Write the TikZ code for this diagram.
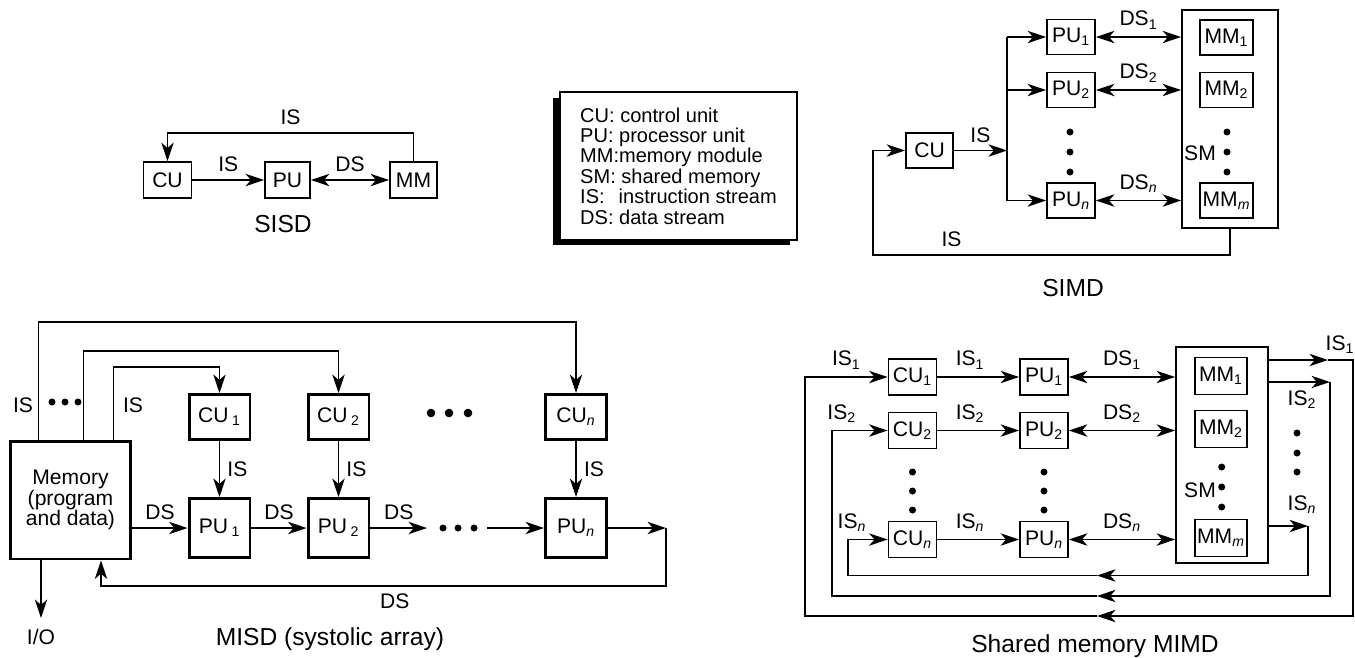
\documentclass[tikz,border=0pt]{standalone}
\usepackage{fontspec}
\setmainfont{Liberation Sans}
\usetikzlibrary{arrows.meta, positioning, calc, shadows}

\newcommand{\idx}[1]{\textsubscript{#1}}
\newcommand{\vidx}[1]{\textsubscript{\itshape #1}}

\tikzset{
  unit/.style={draw, line width=1pt, inner sep=1pt, minimum width=0.96cm, minimum height=0.72cm},
  bigunit/.style={draw, line width=1.7pt, inner sep=1pt, minimum width=1.22cm, minimum height=0.9cm},
  smbox/.style={draw, line width=1pt},
  conn/.style={line width=1.1pt},
  arr/.style={conn, -{Stealth[length=10.5pt,width=7pt,inset=3pt]}},
  darr/.style={conn, {Stealth[length=10.5pt,width=7pt,inset=3pt]}-{Stealth[length=10.5pt,width=7pt,inset=3pt]}},
  lbl/.style={inner sep=1pt},
  caption/.style={font=\fontsize{14}{16}\selectfont},
}

\begin{document}
\begin{tikzpicture}[x=0.02cm, y=-0.02cm, font=\fontsize{12}{13}\selectfont]
    \useasboundingbox (0,0) rectangle (1355,657);

    % SISD
    \node[unit] (cu) at (167.5,180) {CU};
    \node[unit, minimum width=0.9cm] (pu) at (287.5,180) {PU};
    \node[unit, minimum width=0.94cm] (mm) at (413.5,180) {MM};
    \coordinate (sisdtop) at (167.5,133);
    \draw[arr] (cu) -- node[lbl, above=3pt] (sisdis) {IS} (pu);
    \draw[darr] (pu) -- node[lbl, above=3pt] (sisdds) {DS} (mm);
    \draw[arr] (mm.north) |- node[lbl, pos=0.75, above=3pt] (sisdfb) {IS} (sisdtop) -- (cu.north);
    \node[caption] (sisd) at (283,224) {SISD};

    % Legend
    \node[draw, line width=1pt, fill=white, minimum width=4.74cm, minimum height=2.96cm,
          align=left, font=\fontsize{11.4}{11.6}\selectfont,
          drop shadow={shadow xshift=-0.14cm, shadow yshift=-0.11cm, fill=black, opacity=1}]
        (legend) at (678.5,166) {CU: control unit\\PU: processor unit\\MM:memory module\\
        SM: shared memory\\IS:\hspace{0.7em}instruction stream\\DS: data stream};

    % SIMD
    \node[unit, minimum width=0.94cm, minimum height=0.7cm] (scu) at (929.5,150.5) {CU};
    \node[unit, minimum height=0.7cm] (spu1) at (1071,37) {PU\idx{1}};
    \node[unit, minimum height=0.7cm] (spu2) at (1071,90) {PU\idx{2}};
    \node[unit, minimum height=0.7cm] (spun) at (1071,200.5) {PU\vidx{n}};
    \node[smbox, minimum width=1.92cm, minimum height=4.36cm] (ssm) at (1230,119) {};
    \node[unit, minimum width=1.06cm, minimum height=0.7cm] (smm1) at (1226.5,37.5) {MM\idx{1}};
    \node[unit, minimum width=1.06cm, minimum height=0.7cm] (smm2) at (1226.5,90) {MM\idx{2}};
    \node[unit, minimum width=1.06cm, minimum height=0.7cm] (smmm) at (1226.5,200.5) {MM\vidx{m}};
    \node[lbl] (ssml) at (1200,153) {SM};
    \foreach \yy in {132,152,172} {
        \fill (1070,\yy) circle (0.07cm);
        \fill (1227,\yy) circle (0.07cm);
    }
    \coordinate (sbus) at (1007,150.5);
    \draw[arr] (scu) -- node[lbl, above=3pt] (sis) {IS} (sbus);
    \draw[conn] (sbus |- spu1) -- (sbus |- spun);
    \foreach \p in {spu1,spu2,spun}
        \draw[arr] (sbus |- \p) -- (\p);
    \draw[darr] (spu1) -- node[lbl, above=3pt] (sds1) {DS\idx{1}} (spu1 -| ssm.west);
    \draw[darr] (spu2) -- node[lbl, above=3pt] (sds2) {DS\idx{2}} (spu2 -| ssm.west);
    \draw[darr] (spun) -- node[lbl, above=3pt] (sdsn) {DS\vidx{n}} (spun -| ssm.west);
    \coordinate (scorner) at (873,255);
    \draw[arr] (ssm.south) |- node[lbl, pos=0.89, above=3pt] (sisb) {IS} (scorner) |- (scu.west);
    \node[caption] (simd) at (1073,288) {SIMD};

    % MISD (systolic array)
    \node[draw, line width=1.7pt, minimum width=2.42cm, minimum height=2.36cm, align=center,
          font=\fontsize{12}{11.9}\selectfont] (mem) at (70.5,500) {Memory\\(program\\and data)};
    \node[bigunit] (cu1) at (219.5,417) {CU\,\idx{1}};
    \node[bigunit, minimum height=1.18cm] (pu1) at (219.5,528) {PU\,\idx{1}};
    \node[bigunit] (cu2) at (338.5,417) {CU\,\idx{2}};
    \node[bigunit, minimum height=1.18cm] (pu2) at (338.5,528) {PU\,\idx{2}};
    \node[bigunit] (cun) at (576,417) {CU\vidx{n}};
    \node[bigunit, minimum height=1.18cm] (pun) at (576,528) {PU\vidx{n}};

    \coordinate (top3) at (576,322);
    \coordinate (top2) at (338.5,351);
    \coordinate (top1) at (219.5,367);
    \draw[arr] ([xshift=0.6cm]mem.north west) |- (top3) -- (cun.north);
    \draw[arr] ([xshift=1.5cm]mem.north west) |- (top2) -- (cu2.north);
    \draw[arr] ([xshift=2.1cm]mem.north west) |- (top1) -- (cu1.north);
    \node[lbl] (misdl1) at (23,405) {IS};
    \node[lbl] (misdl2) at (133,405) {IS};
    \foreach \xx in {52,65,78} \fill (\xx,402) circle (0.07cm);
    \foreach \xx in {431,449,468} \fill (\xx,413) circle (0.086cm);

    \draw[arr] (cu1) -- node[lbl, right=3pt] (mis1) {IS} (pu1);
    \draw[arr] (cu2) -- node[lbl, right=3pt] (mis2) {IS} (pu2);
    \draw[arr] (cun) -- node[lbl, right=3pt] (misn) {IS} (pun);

    \coordinate (dsa) at (427,528);
    \coordinate (dsb) at (487,528);
    \coordinate (dsr) at (666,528);
    \coordinate (dsbot) at (101,586);
    \draw[arr] (mem.east |- pu1) -- node[lbl, above=3pt] (mds0) {DS} (pu1);
    \draw[arr] (pu1) -- node[lbl, above=3pt] (mds1) {DS} (pu2);
    \draw[arr] (pu2) -- node[lbl, above=3pt] (mds2) {DS} (dsa);
    \foreach \xx in {443,458,474} \fill (\xx,528) circle (0.07cm);
    \draw[arr] (dsb) -- (pun);
    \draw[arr] (pun) -- (dsr);
    \draw[arr] (dsr) |- node[lbl, pos=0.74, below=3pt] (mdsb) {DS} (dsbot) -- (mem.south -| dsbot);
    \coordinate (iotip) at (41,618);
    \node[lbl] (io) at (41,637) {I/O};
    \draw[arr] (mem.south -| iotip) -- (iotip);
    \node[caption] (misd) at (330,639) {MISD (systolic array)};

    % Shared memory MIMD
    \node[unit] (mcu1) at (912.5,377) {CU\idx{1}};
    \node[unit] (mcu2) at (912.5,430.5) {CU\idx{2}};
    \node[unit] (mcun) at (912.5,539.5) {CU\vidx{n}};
    \node[unit] (mpu1) at (1044,377) {PU\idx{1}};
    \node[unit] (mpu2) at (1044,430.5) {PU\idx{2}};
    \node[unit] (mpun) at (1044,539.5) {PU\vidx{n}};
    \node[smbox, minimum width=1.84cm, minimum height=4.32cm] (msm) at (1222,455) {};
    \node[unit, minimum width=1.04cm, minimum height=0.74cm] (mmm1) at (1221,376) {MM\idx{1}};
    \node[unit, minimum width=1.04cm, minimum height=0.74cm] (mmm2) at (1221,429) {MM\idx{2}};
    \node[unit, minimum width=1.04cm, minimum height=0.74cm] (mmmm) at (1221,538) {MM\vidx{m}};
    \node[lbl] (msml) at (1200,490) {SM};
    \foreach \yy in {472,491,510} {
        \fill (912.5,\yy) circle (0.07cm);
        \fill (1044,\yy) circle (0.07cm);
    }
    \foreach \yy in {467,487,507} \fill (1221.7,\yy) circle (0.07cm);
    \foreach \yy in {433,453,472} \fill (1297,\yy) circle (0.07cm);

    \draw[arr] (mcu1) -- node[lbl, pos=0.4, above=3pt] (mis1) {IS\idx{1}} (mpu1);
    \draw[arr] (mcu2) -- node[lbl, pos=0.4, above=3pt] (mis2) {IS\idx{2}} (mpu2);
    \draw[arr] (mcun) -- node[lbl, pos=0.4, above=3pt] (misn) {IS\vidx{n}} (mpun);
    \draw[darr] (mpu1) -- node[lbl, above=3pt] (mds1) {DS\idx{1}} (mpu1 -| msm.west);
    \draw[darr] (mpu2) -- node[lbl, above=3pt] (mds2) {DS\idx{2}} (mpu2 -| msm.west);
    \draw[darr] (mpun) -- node[lbl, above=3pt] (mdsn) {DS\vidx{n}} (mpun -| msm.west);

    \coordinate (mo1) at (1328,360);
    \coordinate (mr1) at (1353,616);
    \coordinate (mb1) at (1097,616);
    \coordinate (ml1) at (805,616);
    \draw[arr] (msm.east |- mo1) -- (mo1);
    \draw[arr] (mo1) -| (mr1) -- (mb1);
    \draw[arr] (mb1) -- (ml1) |- node[lbl, pos=0.75, above=3pt] (min1) {IS\idx{1}} (mcu1.west);

    \coordinate (mo2) at (1330,382);
    \coordinate (mb2) at (1097,596);
    \coordinate (ml2) at (831.7,596);
    \draw[arr] (msm.east |- mo2) -- (mo2);
    \draw[arr] (mo2) |- (mb2);
    \draw[arr] (mb2) -- (ml2) |- node[lbl, pos=0.59, above=3pt] (min2) {IS\idx{2}} (mcu2.west);

    \coordinate (mon) at (1308,526);
    \coordinate (mbn) at (1097,575.5);
    \coordinate (mln) at (848,575.5);
    \draw[arr] (msm.east |- mon) -- (mon);
    \draw[arr] (mon) |- (mbn);
    \draw[arr] (mbn) -- (mln) |- node[lbl, pos=0.55, above=3pt] (minn) {IS\vidx{n}} (mcun.west);

    \node[lbl] (mout1) at (1340,345) {IS\idx{1}};
    \node[lbl] (mout2) at (1302,400) {IS\idx{2}};
    \node[lbl] (moutn) at (1302,505) {IS\vidx{n}};
    \node[caption] (mimd) at (1095,646) {Shared memory MIMD};
\end{tikzpicture}
\end{document}
